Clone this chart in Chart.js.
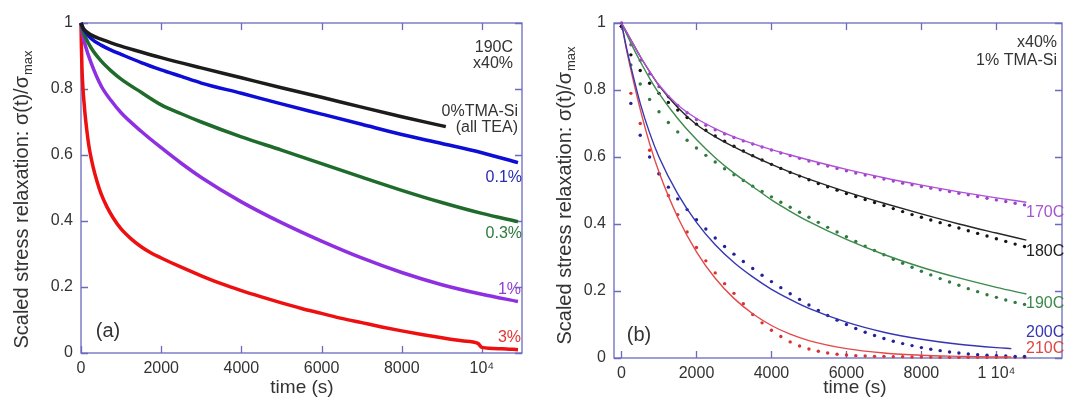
<!DOCTYPE html>
<html>
<head>
<meta charset="utf-8">
<script src="https://cdn.jsdelivr.net/npm/chart.js@4.4.1/dist/chart.umd.min.js"></script>
<style>
  html, body { margin: 0; padding: 0; background: #fff; }
  #wrap { position: relative; width: 1069px; height: 404px; }
  canvas { position: absolute; top: 0; }
</style>
</head>
<body>
<div id="wrap">
  <canvas id="chartA" width="534" height="404" style="left:0"></canvas>
  <canvas id="chartB" width="535" height="404" style="left:534px"></canvas>
</div>
<script>
// ---- (a) 190C, x40%, different TMA-Si fractions ----
const timesA = [0, 50, 100, 250, 500, 750, 1000, 1500, 2000, 2500, 3000, 4000, 5000, 6000, 7000, 8000, 9000, 10000, 10900];
const blueA = [1, 0.985, 0.975, 0.953, 0.933, 0.918, 0.905, 0.88, 0.858, 0.838, 0.818, 0.787, 0.755, 0.724, 0.693, 0.662, 0.635, 0.607, 0.577];
const greenA = [1, 0.975, 0.96, 0.925, 0.885, 0.855, 0.83, 0.79, 0.752, 0.725, 0.70, 0.655, 0.615, 0.574, 0.533, 0.493, 0.456, 0.423, 0.398];
const purpleA = [1, 0.96, 0.935, 0.88, 0.81, 0.765, 0.728, 0.672, 0.622, 0.575, 0.532, 0.458, 0.395, 0.339, 0.288, 0.244, 0.207, 0.178, 0.156];

const blackTimes = [0, 50, 100, 250, 500, 750, 1000, 1500, 2000, 3000, 4000, 5000, 6000, 7000, 8000, 9100];
const blackA = [1, 0.985, 0.977, 0.964, 0.951, 0.94, 0.93, 0.912, 0.895, 0.864, 0.834, 0.804, 0.775, 0.745, 0.716, 0.686];

const redTimes = [0, 10, 25, 50, 75, 100, 150, 200, 300, 400, 500, 650, 800, 1000, 1250, 1500, 1750, 2000, 2500, 3000,
  3500, 4000, 4500, 5000, 5500, 6000, 6500, 7000, 7500, 8000, 8500, 9000, 9500, 9900, 10000, 10500, 10900];
const redA = [1, 0.93, 0.86, 0.8, 0.76, 0.725, 0.67, 0.625, 0.565, 0.52, 0.483, 0.442, 0.41, 0.376, 0.346, 0.322, 0.303, 0.288, 0.26, 0.234,
  0.21, 0.189, 0.17, 0.152, 0.135, 0.12, 0.105, 0.092, 0.079, 0.067, 0.056, 0.046, 0.037, 0.029, 0.017, 0.013, 0.01];

// ---- (b) x40%, 1% TMA-Si at several temperatures: fits (lines) + data (dots) ----
const fitTimes = [0, 250, 500, 750, 1000, 1500, 2000, 2500, 3000, 3500, 4000, 4500, 5000, 6000, 7000, 8000, 9000, 10000, 10800];
const fit170 = [1, 0.95, 0.9, 0.855, 0.815, 0.755, 0.715, 0.685, 0.66, 0.64, 0.622, 0.606, 0.591, 0.563, 0.538, 0.516, 0.496, 0.478, 0.465];
const fit180 = [1, 0.95, 0.9, 0.855, 0.813, 0.748, 0.697, 0.66, 0.63, 0.603, 0.578, 0.555, 0.534, 0.496, 0.462, 0.43, 0.4, 0.373, 0.352];
const fit190 = [1, 0.94, 0.885, 0.835, 0.79, 0.715, 0.652, 0.598, 0.552, 0.512, 0.472, 0.438, 0.407, 0.354, 0.309, 0.271, 0.239, 0.211, 0.191];

const hotFitTimes = [0, 125, 250, 500, 750, 1000, 1500, 2000, 2500, 3000, 3500, 4000, 4500, 5000, 6000, 7000, 8000, 9000, 10000, 10400];
const fit200 = [1, 0.93, 0.87, 0.76, 0.672, 0.6, 0.49, 0.405, 0.338, 0.285, 0.242, 0.205, 0.175, 0.148, 0.107, 0.077, 0.056, 0.041, 0.031, 0.028];
const fit210 = [1, 0.925, 0.86, 0.742, 0.64, 0.555, 0.42, 0.317, 0.238, 0.178, 0.132, 0.097, 0.071, 0.052, 0.028, 0.015, 0.008, 0.005, 0.003, 0.003];

const dotTimes = [0, 250, 500, 750, 1000, 1250, 1500, 1750, 2000, 2250, 2500, 2750, 3000, 3250, 3500, 3750, 4000, 4250, 4500, 4750,
  5000, 5250, 5500, 5750, 6000, 6250, 6500, 6750, 7000, 7250, 7500, 7750, 8000, 8250, 8500, 8750, 9000, 9250, 9500, 9750,
  10000, 10250, 10500, 10750];
const dots170 = [1.0, 0.935, 0.888, 0.848, 0.81, 0.78, 0.754, 0.732, 0.712, 0.695,
  0.681, 0.669, 0.658, 0.648, 0.639, 0.63, 0.621, 0.612, 0.604, 0.596,
  0.588, 0.58, 0.573, 0.566, 0.559, 0.552, 0.546, 0.54, 0.534, 0.528,
  0.522, 0.517, 0.512, 0.507, 0.502, 0.497, 0.492, 0.487, 0.482, 0.477,
  0.472, 0.467, 0.462, 0.457];
const dots180 = [0.99, 0.905, 0.858, 0.82, 0.79, 0.763, 0.74, 0.718, 0.698, 0.68,
  0.663, 0.647, 0.632, 0.618, 0.604, 0.591, 0.578, 0.566, 0.554, 0.543,
  0.532, 0.521, 0.511, 0.501, 0.491, 0.482, 0.473, 0.464, 0.455, 0.446,
  0.437, 0.428, 0.42, 0.412, 0.404, 0.396, 0.388, 0.38, 0.372, 0.364,
  0.356, 0.348, 0.34, 0.333];
const dots190 = [0.99, 0.875, 0.818, 0.772, 0.735, 0.703, 0.675, 0.65, 0.627, 0.605,
  0.585, 0.565, 0.547, 0.53, 0.513, 0.497, 0.481, 0.465, 0.45, 0.435,
  0.42, 0.405, 0.39, 0.376, 0.362, 0.348, 0.334, 0.321, 0.308, 0.295,
  0.283, 0.271, 0.259, 0.248, 0.237, 0.227, 0.217, 0.207, 0.198, 0.189,
  0.181, 0.173, 0.166, 0.16];
const dots200 = [0.99, 0.76, 0.665, 0.6, 0.55, 0.51, 0.475, 0.443, 0.413, 0.385,
  0.358, 0.333, 0.31, 0.288, 0.267, 0.247, 0.228, 0.21, 0.192, 0.175,
  0.158, 0.142, 0.127, 0.113, 0.1, 0.088, 0.077, 0.067, 0.058, 0.05,
  0.043, 0.037, 0.031, 0.026, 0.022, 0.018, 0.015, 0.012, 0.01, 0.008,
  0.007, 0.006, 0.005, 0.005];
const dots210 = [0.99, 0.79, 0.7, 0.62, 0.55, 0.485, 0.428, 0.376, 0.33, 0.29,
  0.254, 0.222, 0.193, 0.162, 0.13, 0.105, 0.083, 0.064, 0.048, 0.036,
  0.027, 0.02, 0.015, 0.011, 0.009, 0.007, 0.006, 0.005, 0.005, 0.004,
  0.004, 0.003, 0.003, 0.003, 0.002, 0.002, 0.002, 0.002, 0.002, 0.002,
  0.002, 0.002, 0.002, 0.002];

// axis ticks
const xTickValues = [0, 2000, 4000, 6000, 8000, 10000];
const xTickLabelsA = ['0', '2000', '4000', '6000', '8000', '10\u2074'];
const xTickLabelsB = ['0', '2000', '4000', '6000', '8000', '1 10\u2074'];
const yTickValues = [0, 0.2, 0.4, 0.6, 0.8, 1];
const yTickLabels = ['0', '0.2', '0.4', '0.6', '0.8', '1'];

const FONT = '"Liberation Sans", Arial, Helvetica, sans-serif';
const FRAME = '#6b6bbd';
const TEXT = '#333';

function pts(ts, vs) {
  return ts.map((t, i) => ({ x: t, y: vs[i] }));
}

function curve(ts, vs, color, width) {
  return {
    data: pts(ts, vs), borderColor: color, borderWidth: width,
    pointRadius: 0, cubicInterpolationMode: 'monotone', fill: false, clip: 4
  };
}

function dots(ts, vs, color) {
  return {
    data: pts(ts, vs), showLine: false, pointRadius: 1.7, pointBorderWidth: 0,
    pointBackgroundColor: color, backgroundColor: color, clip: 4
  };
}

// frame with inward ticks on all four sides, then free text on top
const notesPlugin = {
  id: 'notes',
  beforeDatasetsDraw(chart) {
    const { ctx, chartArea: a, scales: { x, y } } = chart;
    ctx.save();
    ctx.strokeStyle = FRAME;
    ctx.lineWidth = 1.3;
    ctx.strokeRect(a.left, a.top, a.right - a.left, a.bottom - a.top);
    ctx.beginPath();
    x.ticks.forEach(t => {
      const px = Math.round(x.getPixelForValue(t.value)) + 0.5;
      ctx.moveTo(px, a.bottom); ctx.lineTo(px, a.bottom - 7);
      ctx.moveTo(px, a.top); ctx.lineTo(px, a.top + 7);
    });
    y.ticks.forEach(t => {
      const py = Math.round(y.getPixelForValue(t.value)) + 0.5;
      ctx.moveTo(a.left, py); ctx.lineTo(a.left + 7, py);
      ctx.moveTo(a.right, py); ctx.lineTo(a.right - 7, py);
    });
    ctx.stroke();
    ctx.restore();
  },
  afterDraw(chart, args, opts) {
    const ctx = chart.ctx;
    ctx.save();
    ctx.textBaseline = 'middle';
    opts.labels.forEach(l => {
      ctx.font = (l.size || 16) + 'px ' + FONT;
      ctx.fillStyle = l.color || TEXT;
      ctx.textAlign = l.align || 'left';
      ctx.fillText(l.text, l.x, l.y);
    });

    // x axis title
    ctx.font = '19px ' + FONT;
    ctx.fillStyle = TEXT;
    ctx.textAlign = 'center';
    ctx.fillText('time (s)', opts.xTitle.x, opts.xTitle.y);

    // y axis title with subscript
    const main = 'Scaled stress relaxation: \u03c3(t)/\u03c3';
    const sub = 'max';
    ctx.translate(opts.yTitle.x, opts.yTitle.y);
    ctx.rotate(-Math.PI / 2);
    ctx.font = '20px ' + FONT;
    const w1 = ctx.measureText(main).width;
    ctx.font = '13px ' + FONT;
    const w2 = ctx.measureText(sub).width;
    const start = -(w1 + w2) / 2;
    ctx.textAlign = 'left';
    ctx.font = '20px ' + FONT;
    ctx.fillText(main, start, 0);
    ctx.font = '13px ' + FONT;
    ctx.fillText(sub, start + w1 + 1, 6);
    ctx.restore();
  }
};

function baseOptions(xMin, xMax, xLabels, pad, xHeight, notes) {
  return {
    responsive: false,
    animation: false,
    layout: { padding: pad },
    plugins: { legend: { display: false }, tooltip: { enabled: false }, notes: notes },
    scales: {
      x: {
        type: 'linear', min: xMin, max: xMax,
        afterBuildTicks: s => { s.ticks = xTickValues.map(v => ({ value: v })); },
        afterFit: s => { s.height = xHeight; },
        grid: { display: false, drawTicks: false },
        border: { display: false },
        ticks: {
          autoSkip: false, maxRotation: 0, padding: 6, color: TEXT,
          font: { family: FONT, size: 16 },
          callback: (v, i) => xLabels[i]
        }
      },
      y: {
        type: 'linear', min: 0, max: 1,
        afterBuildTicks: s => { s.ticks = yTickValues.map(v => ({ value: v })); },
        afterFit: s => { s.width = 80; },
        grid: { display: false, drawTicks: false },
        border: { display: false },
        ticks: {
          autoSkip: false, padding: 8, color: TEXT,
          font: { family: FONT, size: 16 },
          callback: (v, i) => yTickLabels[i]
        }
      }
    }
  };
}

new Chart(document.getElementById('chartA'), {
  type: 'line',
  data: {
    datasets: [
      curve(blackTimes, blackA, '#1c1c1c', 3.5),
      curve(timesA, blueA, '#0d0dd6', 3.5),
      curve(timesA, greenA, '#1f6b2b', 3.5),
      curve(timesA, purpleA, '#8e30e2', 3.5),
      curve(redTimes, redA, '#ee1010', 3.5)
    ]
  },
  options: baseOptions(0, 11000, xTickLabelsA, { left: 1, top: 23, right: 12, bottom: 0 }, 51, {
    labels: [
      { text: '190C', x: 513, y: 48, align: 'right' },
      { text: 'x40%', x: 513, y: 64, align: 'right' },
      { text: '0%TMA-Si', x: 518, y: 112, align: 'right' },
      { text: '(all TEA)', x: 518, y: 128, align: 'right' },
      { text: '0.1%', x: 522, y: 178, align: 'right', color: '#2a2ab0' },
      { text: '0.3%', x: 522, y: 234, align: 'right', color: '#2e7a3c' },
      { text: '1%', x: 521, y: 290, align: 'right', color: '#9040d0' },
      { text: '3%', x: 521, y: 338, align: 'right', color: '#e03535' },
      { text: '(a)', x: 108, y: 331, align: 'center', size: 20 }
    ],
    xTitle: { x: 302, y: 388 },
    yTitle: { x: 22, y: 200 }
  }),
  plugins: [notesPlugin]
});

new Chart(document.getElementById('chartB'), {
  type: 'line',
  data: {
    datasets: [
      curve(fitTimes, fit170, '#b050d8', 1.4),
      curve(fitTimes, fit180, '#262626', 1.4),
      curve(fitTimes, fit190, '#3d8a4c', 1.4),
      curve(hotFitTimes, fit200, '#3636b4', 1.4),
      curve(hotFitTimes, fit210, '#e24a4a', 1.4),
      dots(dotTimes, dots170, '#9c42c8'),
      dots(dotTimes, dots180, '#141414'),
      dots(dotTimes, dots190, '#2f7a3f'),
      dots(dotTimes, dots200, '#22229a'),
      dots(dotTimes, dots210, '#d83232')
    ]
  },
  options: baseOptions(-200, 11750, xTickLabelsB, { left: 0, top: 23, right: 7, bottom: 0 }, 46, {
    labels: [
      { text: 'x40%', x: 523, y: 43, align: 'right' },
      { text: '1% TMA-Si', x: 523, y: 61, align: 'right' },
      { text: '170C', x: 492, y: 213, color: '#a455d0' },
      { text: '180C', x: 492, y: 252, color: '#222' },
      { text: '190C', x: 492, y: 304, color: '#3a8a4a' },
      { text: '200C', x: 492, y: 333, color: '#3535b5' },
      { text: '210C', x: 492, y: 349, color: '#e04545' },
      { text: '(b)', x: 105, y: 335, align: 'center', size: 20 }
    ],
    xTitle: { x: 321, y: 388 },
    yTitle: { x: 31, y: 196 }
  }),
  plugins: [notesPlugin]
});
</script>
</body>
</html>
